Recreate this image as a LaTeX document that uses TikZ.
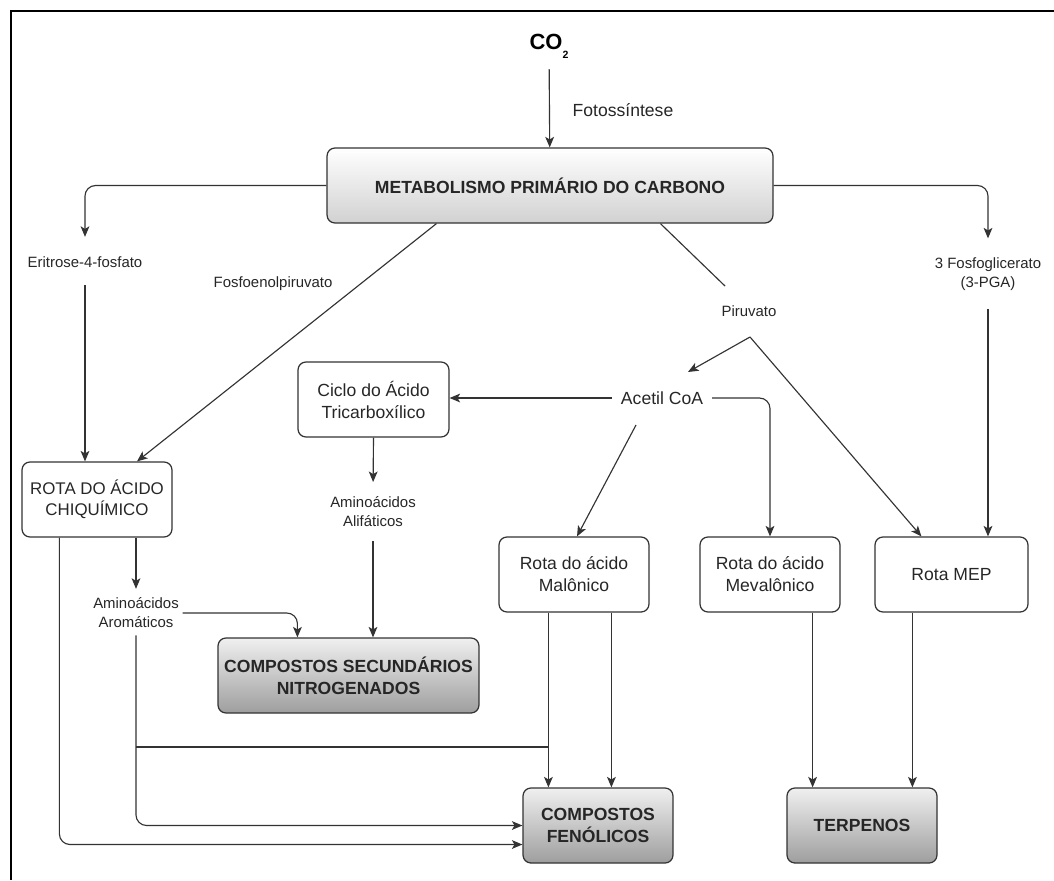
\documentclass[tikz,border=0pt]{standalone}
\usepackage{fontspec}
\setmainfont{Liberation Sans}
\usetikzlibrary{calc,positioning,arrows.meta}

\begin{document}
\begin{tikzpicture}[x=0.02cm,y=-0.02cm,
		>={Stealth[length=6pt,width=5pt,inset=1.5pt]},
		lig/.style={draw=black!80,line width=0.65pt},
		rota/.style={draw=black!80,line width=0.7pt,rounded corners=4.5pt,align=center,minimum width=3cm,minimum height=1.5cm,font=\fontsize{10}{12.5}\selectfont,text=black!85},
		produto/.style={rota,top color=black!6,bottom color=black!38,font=\fontsize{10}{12.5}\selectfont\bfseries},
		rotulo/.style={align=center,inner sep=2pt,font=\fontsize{8.5}{10.8}\selectfont,text=black!85}]
		\useasboundingbox (0,0) rectangle (1054,880);
		\draw[line width=1.6pt] (11,880) -- (11,11) -- (1054,11);
		% nos
		\node[font=\fontsize{12.5}{15}\selectfont\bfseries,inner sep=2pt] (co2) at (549,46) {CO\raisebox{-0.8ex}{\fontsize{6}{6}\selectfont 2}};
		\node[rotulo,font=\fontsize{10}{12}\selectfont] (fotos) at (623,110) {Fotossíntese};
		\node[rota,minimum width=8.92cm,top color=white,bottom color=black!18,font=\fontsize{10}{12}\selectfont\bfseries] (metab) at (550,185.5) {METABOLISMO PRIMÁRIO DO CARBONO};
		\node[rotulo] (eritrose) at (85,262) {Eritrose-4-fosfato};
		\node[rotulo] (pga) at (988,274.5) {3 Fosfoglicerato\\(3-PGA)};
		\node[rotulo] (fosfo) at (273,284) {Fosfoenolpiruvato};
		\node[rotulo] (piruvato) at (749,311) {Piruvato};
		\node[rotulo,font=\fontsize{10}{12}\selectfont] (acetil) at (662,398) {Acetil CoA};
		\node[rota,minimum width=3.02cm] (ciclo) at (373.5,399.5) {Ciclo do Ácido\\Tricarboxílico};
		\node[rota,font=\fontsize{9.6}{12}\selectfont] (chiq) at (97,499.5) {ROTA DO ÁCIDO\\CHIQUÍMICO};
		\node[rotulo] (alif) at (373,511.5) {Aminoácidos\\Alifáticos};
		\node[rotulo] (arom) at (136,613) {Aminoácidos\\Aromáticos};
		\node[rota] (malon) at (574,574.5) {Rota do ácido\\Malônico};
		\node[rota,minimum width=2.8cm] (meval) at (770,574.5) {Rota do ácido\\Mevalônico};
		\node[rota,minimum width=3.06cm] (mep) at (951.5,574.5) {Rota MEP};
		\node[produto,minimum width=5.22cm] (nitro) at (348.5,675.5) {COMPOSTOS SECUNDÁRIOS\\NITROGENADOS};
		\node[produto] (fenol) at (598,825.5) {COMPOSTOS\\FENÓLICOS};
		\node[produto] (terp) at (862,825.5) {TERPENOS};
		% ligacoes
		\draw[lig,->,shorten <=4pt] (co2) -- (metab);
		\draw[lig,->,rounded corners=6pt,shorten >=9pt] (metab.west) -| (eritrose.north);
		\draw[lig,->,rounded corners=6pt,shorten >=9pt] (metab.east) -| (pga.north);
		\draw[lig,->,shorten <=8pt] (eritrose.south) -- (eritrose.south |- chiq.north);
		\draw[lig,->] ($(metab.south west)+(110,0)$) -- ($(chiq.north)+(40,0)$);
		\draw[lig] ($(metab.south west)+(334,0)$) -- ($(piruvato)+(-24,-25)$);
		\coordinate (pv) at ($(piruvato)+(1,26)$);
		\draw[lig,->] (pv) -- ($(acetil)+(26,-26)$);
		\draw[lig,->] (pv) -- ($(mep.north west)+(47,0)$);
		\draw[lig,->,shorten <=8pt] (pga.south) -- (pga.south |- mep.north);
		\draw[lig,->,shorten <=3pt] (acetil.west) -- (acetil.west -| ciclo.east);
		\draw[lig,->,rounded corners=6pt,shorten <=3pt] (acetil.east) -| (meval.north);
		\draw[lig,->] ($(acetil)+(-26,27)$) -- ($(malon.north)+(3,0)$);
		\draw[lig,->,shorten >=6pt] (ciclo.south) -- (alif.north);
		\draw[lig,->,shorten <=6pt] (alif.south) -- (alif.south |- nitro.north);
		\draw[lig,->,shorten >=3pt] (arom.north |- chiq.south) -- (arom.north);
		\draw[lig,->,rounded corners=6pt] (arom.east) -| ($(nitro.north west)+(80,0)$);
		\draw[lig,->,rounded corners=6pt,shorten <=2pt] (arom.south) |- (fenol.west);
		\draw[lig,->,rounded corners=6pt] ($(chiq.south west)+(38,0)$) |- ($(fenol.west)+(0,19)$);
		\coordinate (m1) at ($(malon.south west)+(50,0)$);
		\coordinate (m2) at ($(malon.south west)+(113,0)$);
		\draw[lig,->] (m1) -- (m1 |- fenol.north);
		\draw[lig,->] (m2) -- (m2 |- fenol.north);
		\draw[lig] (m1 |- 0,747) -- (arom.south |- 0,747);
		\coordinate (v1) at ($(meval.south east)+(-28,0)$);
		\coordinate (v2) at ($(mep.south west)+(38,0)$);
		\draw[lig,->] (v1) -- (v1 |- terp.north);
		\draw[lig,->] (v2) -- (v2 |- terp.north);
	\end{tikzpicture}
\end{document}
